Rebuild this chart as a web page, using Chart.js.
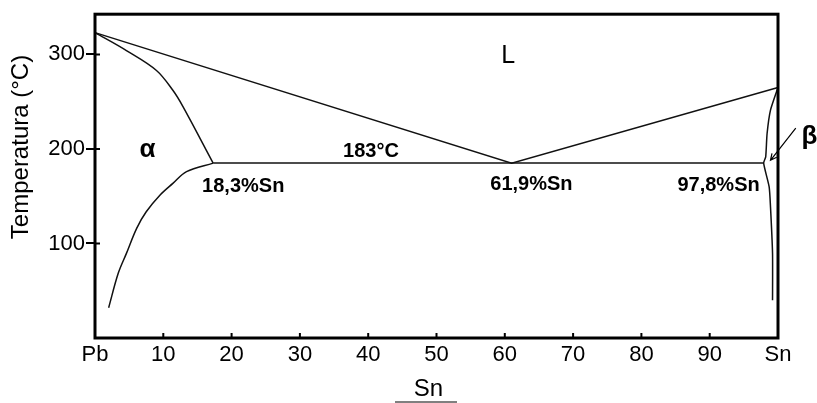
<head>
    <script src="https://cdn.jsdelivr.net/npm/chart.js"></script>
</head>
<body style="margin:0;background:#fff">
    <canvas id="myChart" width="817" height="403"></canvas>
    <script>
        // Pb-Sn phase diagram (x = %Sn, y = °C)
        const xTickLabels = ['Pb', '10', '20', '30', '40', '50', '60', '70', '80', '90', 'Sn'];
        const yTickValues = [100, 200, 300];

        const liquidusSn = [0, 61, 100];
        const liquidusT = [323, 185, 265];

        const solidusAlphaSn = [0, 4.6, 9, 11.4, 12.9, 17.3];
        const solidusAlphaT = [323, 304, 283, 262, 244.5, 185];

        const eutecticSn = [17.3, 97.9];
        const eutecticT = [185, 185];

        const solvusAlphaSn = [17.3, 13.4, 11.4, 9.5, 7.5, 6.1, 4.6, 3.4, 2.0];
        const solvusAlphaT = [185, 176, 163.5, 151, 133.5, 116, 89.5, 68.4, 32];

        const betaSn = [100, 98.9, 98.4, 98.2, 97.9, 98.7, 98.9, 99.2, 99.2];
        const betaT = [265, 241, 216, 191.6, 185, 160, 139, 89.5, 40];

        const labelText = ['L', 'α', '183°C', '18,3%Sn', '61,9%Sn', '97,8%Sn', 'β'];
        const labelSn = [60.5, 7.7, 40.4, 21.7, 63.9, 91.3, 104.6];
        const labelT = [298, 198.6, 197.6, 160.6, 162.7, 161.6, 213];

        const arrowSn = [102.6, 98.9];
        const arrowT = [222, 188];

        const toPoints = (xs, ys) => xs.map((x, i) => ({x: x, y: ys[i]}));

        const curve = (name, xs, ys, tension) => ({
            label: name,
            data: toPoints(xs, ys),
            showLine: true,
            borderColor: '#111',
            borderWidth: 1.5,
            pointRadius: 0,
            tension: tension || 0,
            clip: false
        });

        const font = 'Liberation Sans, Arial, sans-serif';

        const decor = {
            id: 'decor',
            afterDraw(chart) {
                const ctx = chart.ctx;
                const a = chart.chartArea;
                const xs = chart.scales.x;
                const ys = chart.scales.y;
                ctx.save();
                ctx.strokeStyle = '#000';
                ctx.fillStyle = '#000';

                // frame
                ctx.lineWidth = 3;
                ctx.strokeRect(a.left, a.top, a.right - a.left, a.bottom - a.top);

                // inward tick marks
                ctx.lineWidth = 2;
                ctx.beginPath();
                for (let v = 10; v < 100; v += 10) {
                    const px = xs.getPixelForValue(v);
                    ctx.moveTo(px, a.bottom);
                    ctx.lineTo(px, a.bottom - 5);
                }
                yTickValues.forEach(v => {
                    const py = ys.getPixelForValue(v);
                    ctx.moveTo(a.left, py);
                    ctx.lineTo(a.left + 5, py);
                });
                ctx.stroke();

                // labels on the diagram
                ctx.textAlign = 'center';
                ctx.textBaseline = 'middle';
                labelText.forEach((t, i) => {
                    if (t === 'L') ctx.font = '25px ' + font;
                    else if (t === 'α' || t === 'β') ctx.font = 'bold 26px ' + font;
                    else ctx.font = 'bold 20px ' + font;
                    ctx.fillText(t, xs.getPixelForValue(labelSn[i]), ys.getPixelForValue(labelT[i]));
                });

                // arrow to the beta region
                const x0 = xs.getPixelForValue(arrowSn[0]), y0 = ys.getPixelForValue(arrowT[0]);
                const x1 = xs.getPixelForValue(arrowSn[1]), y1 = ys.getPixelForValue(arrowT[1]);
                const ang = Math.atan2(y1 - y0, x1 - x0);
                ctx.lineWidth = 1.2;
                ctx.beginPath();
                ctx.moveTo(x0, y0);
                ctx.lineTo(x1, y1);
                ctx.moveTo(x1 - 7 * Math.cos(ang - 0.45), y1 - 7 * Math.sin(ang - 0.45));
                ctx.lineTo(x1, y1);
                ctx.lineTo(x1 - 7 * Math.cos(ang + 0.45), y1 - 7 * Math.sin(ang + 0.45));
                ctx.stroke();

                // axis titles
                ctx.font = '24px ' + font;
                ctx.fillText('Sn', (a.left + a.right) / 2 - 8, 389);
                ctx.lineWidth = 1;
                ctx.beginPath();
                ctx.moveTo(395, 402);
                ctx.lineTo(457, 402);
                ctx.stroke();

                ctx.translate(21, 147);
                ctx.rotate(-Math.PI / 2);
                ctx.font = '24px ' + font;
                ctx.fillText('Temperatura (°C)', 0, 0);
                ctx.restore();
            }
        };

        Chart.defaults.font.family = font;
        Chart.defaults.color = '#000';

        const ctx = document.getElementById('myChart');
        const myChart = new Chart(ctx, {
            type: 'scatter',
            data: {
                datasets: [
                    curve('liquidus', liquidusSn, liquidusT),
                    curve('solidus α', solidusAlphaSn, solidusAlphaT, 0.35),
                    curve('eutectic', eutecticSn, eutecticT),
                    curve('solvus α', solvusAlphaSn, solvusAlphaT, 0.35),
                    curve('β', betaSn, betaT, 0.2)
                ]
            },
            options: {
                responsive: false,
                animation: false,
                layout: {padding: {top: 14, right: 39, left: 0, bottom: 0}},
                plugins: {legend: {display: false}, tooltip: {enabled: false}},
                scales: {
                    x: {
                        type: 'linear',
                        min: 0,
                        max: 100,
                        afterFit: s => { s.height = 65; },
                        border: {display: false},
                        grid: {drawOnChartArea: false, drawTicks: false},
                        ticks: {
                            stepSize: 10,
                            padding: 4,
                            maxRotation: 0,
                            font: {size: 22},
                            callback: v => xTickLabels[Math.round(v / 10)]
                        }
                    },
                    y: {
                        type: 'linear',
                        min: 0,
                        max: 342.5,
                        afterFit: s => { s.width = 95; },
                        afterBuildTicks: s => { s.ticks = yTickValues.map(v => ({value: v})); },
                        border: {display: false},
                        grid: {drawOnChartArea: false, drawTicks: true, tickLength: 9, color: '#000', lineWidth: 2},
                        ticks: {padding: 1, font: {size: 22}}
                    }
                }
            },
            plugins: [decor]
        });
    </script>
</body>
